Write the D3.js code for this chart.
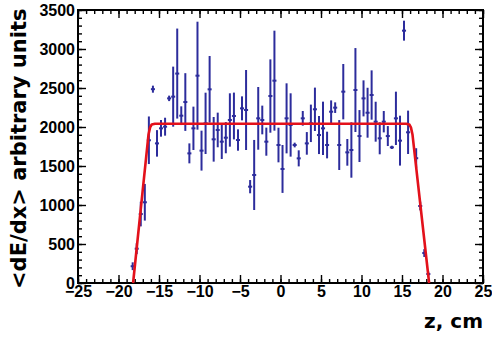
<!DOCTYPE html>
<html>
<head>
<meta charset="utf-8">
<script src="https://cdn.jsdelivr.net/npm/d3@7"></script>
<style>
  body { margin: 0; background: #fff; }
  svg { display: block; }
  .tick text { font-family: "Liberation Sans", Arial, sans-serif; font-weight: bold; }
</style>
</head>
<body>
<script>
// bin centres (cm)
const zBins = [-18.25, -17.75, -17.25, -16.75, -16.25, -15.75, -15.25, -14.75, -14.25, -13.75,
  -13.25, -12.75, -12.25, -11.75, -11.25, -10.75, -10.25, -9.75, -9.25, -8.75,
  -8.25, -7.75, -7.25, -6.75, -6.25, -5.75, -5.25, -4.75, -4.25, -3.75,
  -3.25, -2.75, -2.25, -1.75, -1.25, -0.75, -0.25, 0.25, 0.75, 1.25,
  1.75, 2.25, 2.75, 3.25, 3.75, 4.25, 4.75, 5.25, 5.75, 6.25,
  6.75, 7.25, 7.75, 8.25, 8.75, 9.25, 9.75, 10.25, 10.75, 11.25,
  11.75, 12.25, 12.75, 13.25, 13.75, 14.25, 14.75, 15.25, 15.75, 16.75,
  17.25, 17.75, 18.25];
const dedx = [215, 440, 884, 1035, 1830, 2485, 1790, 1983, 2004, 2367,
  2389, 2685, 2145, 2320, 1662, 1983, 2658, 1697, 2047, 2483,
  1842, 1962, 1812, 1863, 2090, 2141, 1833, 2239, 2218, 1235,
  1385, 2111, 2090, 1812, 2397, 2594, 1769, 1462, 2111, 2026,
  1769, 1598, 2111, 1790, 2047, 2227, 1897, 1983, 1769, 2196,
  2248, 1769, 2453, 1675, 1705, 2474, 1884, 2367, 2183, 2410,
  2068, 1855, 2068, 1884, 1739, 2111, 1825, 3235, 1932, 1600,
  987, 384, 115];
const dedxErr = [50, 70, 158, 235, 305, 45, 170, 107, 115, 35,
  385, 577, 120, 370, 128, 278, 692, 256, 393, 427,
  286, 222, 222, 200, 342, 300, 137, 154, 513, 85,
  449, 402, 184, 180, 470, 641, 222, 307, 449, 406,
  30, 103, 94, 145, 240, 278, 244, 342, 171, 145,
  68, 320, 355, 171, 355, 538, 333, 231, 320, 316,
  256, 205, 137, 128, 21, 342, 320, 128, 278, 128,
  56, 50, 30];
const binHalf = 0.25;

// fitted trapezoid
const fitZ = [-18.2, -16.3, -16.1, -15.9, -15.5, 15.5, 15.9, 16.1, 16.3, 18.35];
const fitY = [0, 1900, 1995, 2032, 2042, 2042, 2032, 1995, 1900, 0];

const xTicks = [-25, -20, -15, -10, -5, 0, 5, 10, 15, 20, 25];
const yTicks = [0, 500, 1000, 1500, 2000, 2500, 3000, 3500];

const width = 492, height = 338;
const margin = { top: 10, right: 9, bottom: 55, left: 78 };
const innerBottom = height - margin.bottom;
const innerRight = width - margin.right;

const x = d3.scaleLinear().domain([-25, 25]).range([margin.left, innerRight]);
const y = d3.scaleLinear().domain([0, 3500]).range([innerBottom, margin.top]);

const svg = d3.create("svg").attr("width", width).attr("height", height);

const points = zBins.map((z, i) => ({ z, v: dedx[i], e: dedxErr[i] }));

// minor ticks
const xMinor = d3.range(-25, 25.01, 1);
const yMinor = d3.range(0, 3500.1, 100);
function styleAxis(g) {
  g.select(".domain").remove();
  g.selectAll(".tick line").attr("stroke", "#000").attr("stroke-width", 1.4);
}
svg.append("g").attr("transform", `translate(0,${innerBottom})`)
  .call(d3.axisBottom(x).tickValues(xMinor).tickSize(-4).tickFormat(""))
  .call(styleAxis);
svg.append("g").attr("transform", `translate(0,${margin.top})`)
  .call(d3.axisTop(x).tickValues(xMinor).tickSize(-4).tickFormat(""))
  .call(styleAxis);
svg.append("g").attr("transform", `translate(${margin.left},0)`)
  .call(d3.axisLeft(y).tickValues(yMinor).tickSize(-4).tickFormat(""))
  .call(styleAxis);
svg.append("g").attr("transform", `translate(${innerRight},0)`)
  .call(d3.axisRight(y).tickValues(yMinor).tickSize(-4).tickFormat(""))
  .call(styleAxis);

// major ticks + labels
svg.append("g").attr("transform", `translate(0,${innerBottom})`)
  .call(d3.axisBottom(x).tickValues(xTicks).tickSize(-8).tickPadding(3).tickFormat(d3.format("d")))
  .call(styleAxis)
  .call(g => g.selectAll(".tick text").attr("font-size", 16).attr("fill", "#000"));
svg.append("g").attr("transform", `translate(0,${margin.top})`)
  .call(d3.axisTop(x).tickValues(xTicks).tickSize(-8).tickFormat(""))
  .call(styleAxis);
svg.append("g").attr("transform", `translate(${margin.left},0)`)
  .call(d3.axisLeft(y).tickValues(yTicks).tickSize(-8).tickPadding(3).tickFormat(d3.format("d")))
  .call(styleAxis)
  .call(g => g.selectAll(".tick text").attr("font-size", 16).attr("fill", "#000"));
svg.append("g").attr("transform", `translate(${innerRight},0)`)
  .call(d3.axisRight(y).tickValues(yTicks).tickSize(-8).tickFormat(""))
  .call(styleAxis);

// frame
svg.append("rect")
  .attr("x", margin.left).attr("y", margin.top)
  .attr("width", innerRight - margin.left).attr("height", innerBottom - margin.top)
  .attr("fill", "none").attr("stroke", "#000").attr("stroke-width", 2);

// error bars
const bars = svg.append("g")
  .attr("stroke", "#2c2c9c")
  .attr("stroke-width", 2);
bars.selectAll("line.v").data(points).join("line").attr("class", "v")
  .attr("x1", d => x(d.z)).attr("x2", d => x(d.z))
  .attr("y1", d => y(d.v + d.e)).attr("y2", d => y(Math.max(0, d.v - d.e)));
bars.selectAll("line.h").data(points).join("line").attr("class", "h")
  .attr("x1", d => x(d.z - binHalf)).attr("x2", d => x(d.z + binHalf))
  .attr("y1", d => y(d.v)).attr("y2", d => y(d.v));

// fit
const line = d3.line().x(d => x(d[0])).y(d => y(d[1]));
svg.append("path")
  .attr("d", line(fitZ.map((z, i) => [z, fitY[i]])))
  .attr("fill", "none")
  .attr("stroke", "#e3111b")
  .attr("stroke-width", 2.6)
  .attr("stroke-linejoin", "round");

// axis titles
svg.append("text")
  .attr("transform", "translate(26,289) rotate(-90)")
  .attr("font-family", "DejaVu Sans, sans-serif")
  .attr("font-weight", "bold")
  .attr("font-size", 21)
  .attr("text-anchor", "start")
  .text("<dE/dx> arbitrary units");
svg.append("text")
  .attr("x", 483).attr("y", 328)
  .attr("font-family", "DejaVu Sans, sans-serif")
  .attr("font-weight", "bold")
  .attr("font-size", 20)
  .attr("text-anchor", "end")
  .text("z, cm");

document.body.appendChild(svg.node());
</script>
</body>
</html>
